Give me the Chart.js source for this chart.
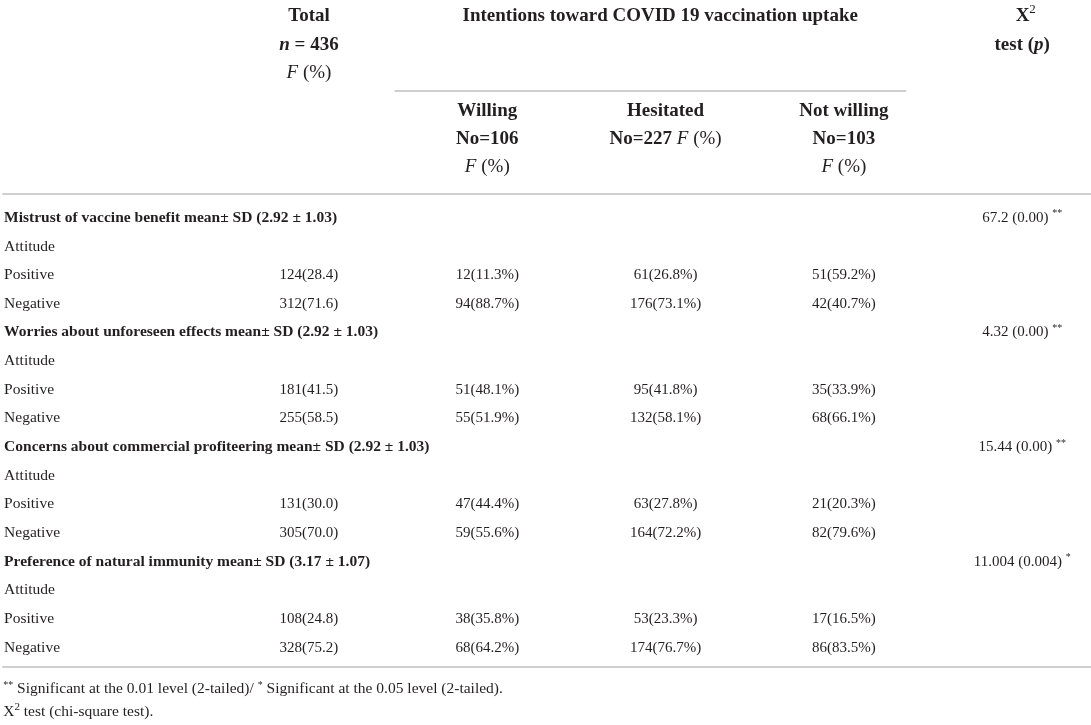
<!DOCTYPE html>
<html>
<head>
<meta charset="utf-8">
<script src="https://cdn.jsdelivr.net/npm/chart.js@4/dist/chart.umd.min.js"></script>
<style>
html, body { margin: 0; background: #fff; }
canvas { display: block; }
</style>
</head>
<body>
<canvas id="tbl" width="1091" height="725"></canvas>
<script>
// table content, one array per column
const rowLabels = [
    'Mistrust of vaccine benefit mean\u00b1 SD (2.92 \u00b1 1.03)', 'Attitude', 'Positive', 'Negative',
    'Worries about unforeseen effects mean\u00b1 SD (2.92 \u00b1 1.03)', 'Attitude', 'Positive', 'Negative',
    'Concerns about commercial profiteering mean\u00b1 SD (2.92 \u00b1 1.03)', 'Attitude', 'Positive', 'Negative',
    'Preference of natural immunity mean\u00b1 SD (3.17 \u00b1 1.07)', 'Attitude', 'Positive', 'Negative'
];
const headingRows = [0, 4, 8, 12];
const totalN     = ['', '', '124(28.4)', '312(71.6)', '', '', '181(41.5)', '255(58.5)', '', '', '131(30.0)', '305(70.0)', '', '', '108(24.8)', '328(75.2)'];
const willing    = ['', '', '12(11.3%)', '94(88.7%)', '', '', '51(48.1%)', '55(51.9%)', '', '', '47(44.4%)', '59(55.6%)', '', '', '38(35.8%)', '68(64.2%)'];
const hesitated  = ['', '', '61(26.8%)', '176(73.1%)', '', '', '95(41.8%)', '132(58.1%)', '', '', '63(27.8%)', '164(72.2%)', '', '', '53(23.3%)', '174(76.7%)'];
const notWilling = ['', '', '51(59.2%)', '42(40.7%)', '', '', '35(33.9%)', '68(66.1%)', '', '', '21(20.3%)', '82(79.6%)', '', '', '17(16.5%)', '86(83.5%)'];
const chiSquare  = ['67.2 (0.00)', '', '', '', '4.32 (0.00)', '', '', '', '15.44 (0.00)', '', '', '', '11.004 (0.004)', '', '', ''];
const chiStars   = ['**', '', '', '', '**', '', '', '', '**', '', '', '', '*', '', '', ''];
const columns = [totalN, willing, hesitated, notWilling];

const FONT = '"Liberation Serif", "DejaVu Serif", serif';
const INK = '#231f20';
const RULE = '#cfcfcf';

function fontOf(s) {
    return (s.i ? 'italic ' : '') + (s.b ? 'bold ' : '') + s.size + 'px ' + FONT;
}

function richText(ctx, segs, px, py, align) {
    let w = 0;
    segs.forEach(s => { ctx.font = fontOf(s); s.w = ctx.measureText(s.t).width; w += s.w; });
    let sx = align === 'center' ? px - w / 2 : (align === 'right' ? px - w : px);
    ctx.textAlign = 'left';
    ctx.textBaseline = 'middle';
    segs.forEach(s => {
        ctx.font = fontOf(s);
        ctx.fillText(s.t, sx, py + (s.dy || 0));
        sx += s.w;
    });
}

const H = 19;   // header size
const B = 15;   // body size
const FN = 15.5; // footnote size
// header cells: [column, row, segments]
const headerCells = [
    [1, -7.04, [{t: 'Total', b: 1, size: H}]],
    [1, -6.03, [{t: 'n', b: 1, i: 1, size: H}, {t: ' = 436', b: 1, size: H}]],
    [1, -5.05, [{t: 'F', i: 1, size: H}, {t: ' (%)', size: H}]],
    [2.97, -7.04, [{t: 'Intentions toward COVID 19 vaccination uptake', b: 1, size: H}]],
    [5.02, -7.04, [{t: 'X', b: 1, size: H}, {t: '2', size: 13, dy: -6}]],
    [5.0, -6.03, [{t: 'test (', b: 1, size: H}, {t: 'p', b: 1, i: 1, size: H}, {t: ')', b: 1, size: H}]],
    [2, -3.73, [{t: 'Willing', b: 1, size: H}]],
    [2, -2.75, [{t: 'No=106', b: 1, size: H}]],
    [2, -1.78, [{t: 'F', i: 1, size: H}, {t: ' (%)', size: H}]],
    [3, -3.73, [{t: 'Hesitated', b: 1, size: H}]],
    [3, -2.75, [{t: 'No=227 ', b: 1, size: H}, {t: 'F', i: 1, size: H}, {t: ' (%)', size: H}]],
    [4, -3.73, [{t: 'Not willing', b: 1, size: H}]],
    [4, -2.75, [{t: 'No=103', b: 1, size: H}]],
    [4, -1.78, [{t: 'F', i: 1, size: H}, {t: ' (%)', size: H}]]
];

const tablePlugin = {
    id: 'tableText',
    beforeDraw(chart) {
        const ctx = chart.ctx;
        ctx.save();
        ctx.fillStyle = '#fff';
        ctx.fillRect(0, 0, chart.width, chart.height);
        ctx.restore();
    },
    afterDatasetsDraw(chart) {
        const ctx = chart.ctx;
        const xs = chart.scales.x, ys = chart.scales.y;
        ctx.save();
        ctx.fillStyle = INK;

        // rules
        ctx.strokeStyle = RULE;
        ctx.lineWidth = 2;
        const rule = (x0, x1, r) => {
            const py = Math.round(ys.getPixelForValue(r));
            ctx.beginPath();
            ctx.moveTo(xs.getPixelForValue(x0), py);
            ctx.lineTo(xs.getPixelForValue(x1), py);
            ctx.stroke();
        };
        rule(1.48, 4.35, -4.42);
        rule(-0.72, 5.4, -0.84);
        rule(-0.72, 5.4, 15.68);

        headerCells.forEach(([c, r, segs]) => {
            richText(ctx, segs, xs.getPixelForValue(c), ys.getPixelForValue(r), 'center');
        });

        // cell texts, placed at the points the library computed
        chart.data.datasets.forEach((ds, di) => {
            const meta = chart.getDatasetMeta(di);
            meta.data.forEach((el, j) => {
                const cell = ds.data[j];
                if (ds.kind === 'label') {
                    richText(ctx, [{t: cell.t, b: cell.bold, size: 15.5}], el.x, el.y, 'left');
                } else if (ds.kind === 'chi') {
                    richText(ctx, [{t: cell.t + ' ', size: B}, {t: cell.s, size: 10, dy: -4}], el.x, el.y, 'center');
                } else {
                    richText(ctx, [{t: cell.t, size: B}], el.x, el.y, 'center');
                }
            });
        });

        // footnotes
        const fx = xs.getPixelForValue(-0.715);
        richText(ctx, [
            {t: '**', size: 10, dy: -4}, {t: ' Significant at the 0.01 level (2-tailed)/ ', size: FN},
            {t: '*', size: 10, dy: -4}, {t: ' Significant at the 0.05 level (2-tailed).', size: FN}
        ], fx, ys.getPixelForValue(16.45), 'left');
        richText(ctx, [
            {t: 'X', size: FN}, {t: '2', size: 11, dy: -4}, {t: ' test (chi-square test).', size: FN}
        ], fx, ys.getPixelForValue(17.23), 'left');
        ctx.restore();
    }
};

const rowIdx = rowLabels.map((_, i) => i);
const datasets = [{
    kind: 'label',
    data: rowIdx.map(i => ({x: -0.71, y: i, t: rowLabels[i], bold: headingRows.includes(i)}))
}];
columns.forEach((col, c) => {
    datasets.push({
        kind: 'cell',
        data: rowIdx.filter(i => col[i]).map(i => ({x: c + 1, y: i, t: col[i]}))
    });
});
datasets.push({
    kind: 'chi',
    data: rowIdx.filter(i => chiSquare[i]).map(i => ({x: 5, y: i, t: chiSquare[i], s: chiStars[i]}))
});
datasets.forEach(d => { d.pointRadius = 0; d.pointHoverRadius = 0; });

new Chart(document.getElementById('tbl'), {
    type: 'scatter',
    data: { datasets },
    options: {
        responsive: false,
        animation: false,
        events: [],
        layout: { padding: 0 },
        plugins: { legend: { display: false }, tooltip: { enabled: false } },
        scales: {
            x: { type: 'linear', display: false, min: -0.733, max: 5.386 },
            y: { type: 'linear', display: false, reverse: true, min: -7.6, max: 17.7 }
        }
    },
    plugins: [tablePlugin]
});
</script>
</body>
</html>
